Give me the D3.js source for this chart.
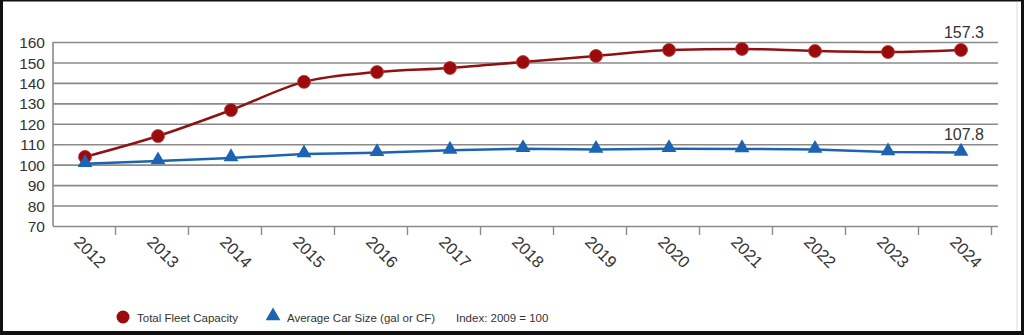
<!DOCTYPE html>
<html>
<head>
<meta charset="utf-8">
<script src="https://cdn.jsdelivr.net/npm/d3@7"></script>
<style>
  html, body { margin: 0; padding: 0; background: #fff; }
  svg { display: block; }
  text { font-family: "Liberation Sans", Arial, Helvetica, sans-serif; }
</style>
</head>
<body>
<svg id="chart" width="1024" height="335"></svg>
<script>
// ---- data ----
const years = ["2012","2013","2014","2015","2016","2017","2018","2019","2020","2021","2022","2023","2024"];
const fleetCapacity = [103.8, 114.0, 126.7, 140.5, 145.3, 147.3, 150.2, 153.2, 156.1, 156.6, 155.6, 155.1, 156.1];
const avgCarSize = [100.4, 101.8, 103.3, 105.2, 105.8, 107.0, 107.8, 107.4, 107.8, 107.7, 107.4, 106.2, 106.0];
const yTicks = [70, 80, 90, 100, 110, 120, 130, 140, 150, 160];
const endLabels = ["157.3", "107.8"];
const legendLabels = ["Total Fleet Capacity", "Average Car Size (gal or CF)", "Index: 2009 = 100"];

// ---- layout ----
const W = 1024, H = 335;
const svg = d3.select("#chart");
const plotLeft = 53, plotRight = 998, plotTop = 42, plotBottom = 226;

const x = d3.scaleBand().domain(years).range([48.5, 997.5]).padding(0);
const xc = d => x(d) + x.bandwidth() / 2;
const y = d3.scaleLinear().domain([70, 160]).range([plotBottom, plotTop]);

const red = "#9c0b0b", redLine = "#8e1212";
const blue = "#1c64b2";
const grid = "#8a8a8a";
const textCol = "#333";

svg.append("rect").attr("width", W).attr("height", H).attr("fill", "#fff");

// gridlines
const yAxis = d3.axisLeft(y).tickValues(yTicks).tickSize(0).tickPadding(0);
const gy = svg.append("g").attr("transform", `translate(${plotLeft},0)`).call(yAxis);
gy.select(".domain").remove();
gy.selectAll(".tick line")
  .attr("x1", 0).attr("x2", plotRight - plotLeft)
  .attr("stroke", grid).attr("stroke-width", 1.6);
gy.selectAll(".tick text")
  .attr("x", -8).attr("dy", "0.36em")
  .attr("fill", textCol).attr("font-size", 15.5)
  .attr("text-anchor", "end");

// left axis line
svg.append("line")
  .attr("x1", plotLeft).attr("x2", plotLeft)
  .attr("y1", y(160)).attr("y2", y(70))
  .attr("stroke", grid).attr("stroke-width", 1.6);

// x tick marks between categories
svg.append("g").selectAll("line")
  .data(years)
  .join("line")
  .attr("x1", d => x(d) + x.bandwidth() - 6)
  .attr("x2", d => x(d) + x.bandwidth() - 6)
  .attr("y1", plotBottom).attr("y2", plotBottom + 9)
  .attr("stroke", grid).attr("stroke-width", 1.4);

// x labels
svg.append("g").selectAll("text")
  .data(years)
  .join("text")
  .attr("transform", d => `translate(${xc(d) - 12},${243}) rotate(45)`)
  .attr("font-size", 16.5)
  .attr("fill", textCol)
  .text(d => d);

// lines
const redPts = years.map((d, i) => [xc(d), y(fleetCapacity[i])]);
const bluePts = years.map((d, i) => [xc(d), y(avgCarSize[i])]);

svg.append("path")
  .attr("d", d3.line().curve(d3.curveMonotoneX)(redPts))
  .attr("fill", "none").attr("stroke", redLine).attr("stroke-width", 2.5);
svg.append("path")
  .attr("d", d3.line()(bluePts))
  .attr("fill", "none").attr("stroke", blue).attr("stroke-width", 2.5);

// markers
svg.append("g").selectAll("circle")
  .data(redPts)
  .join("circle")
  .attr("cx", d => d[0]).attr("cy", d => d[1]).attr("r", 6.5)
  .attr("fill", red).attr("stroke", "#b33a3a").attr("stroke-width", 0.8);

const tri = d3.symbol().type(d3.symbolTriangle).size(95);
svg.append("g").selectAll("path")
  .data(bluePts)
  .join("path")
  .attr("transform", d => `translate(${d[0]},${d[1] - 1})`)
  .attr("d", tri)
  .attr("fill", blue);

// end labels
const last = years[years.length - 1];
svg.append("text")
  .attr("x", xc(last) + 3).attr("y", y(fleetCapacity[fleetCapacity.length - 1]) - 12)
  .attr("text-anchor", "middle").attr("font-size", 16).attr("fill", textCol)
  .text(endLabels[0]);
svg.append("text")
  .attr("x", xc(last) + 3).attr("y", y(avgCarSize[avgCarSize.length - 1]) - 12)
  .attr("text-anchor", "middle").attr("font-size", 16).attr("fill", textCol)
  .text(endLabels[1]);

// legend
const ly = 317;
const lg = svg.append("g");
lg.append("circle").attr("cx", 123).attr("cy", ly).attr("r", 6.5).attr("fill", red);
lg.append("text").attr("x", 137).attr("y", ly + 4.5).attr("font-size", 11.5).attr("fill", textCol).text(legendLabels[0]);
lg.append("path").attr("transform", `translate(273,${ly - 1})`).attr("d", tri).attr("fill", blue);
lg.append("text").attr("x", 287).attr("y", ly + 4.5).attr("font-size", 11.5).attr("fill", textCol).text(legendLabels[1]);
lg.append("text").attr("x", 456).attr("y", ly + 4.5).attr("font-size", 11.5).attr("fill", textCol).text(legendLabels[2]);

// frame
svg.append("rect").attr("x", 0).attr("y", 0).attr("width", 3).attr("height", H).attr("fill", "#111");
svg.append("rect").attr("x", 0).attr("y", 0).attr("width", W).attr("height", 1.5).attr("fill", "#111");
svg.append("rect").attr("x", W - 3).attr("y", 0).attr("width", 3).attr("height", H).attr("fill", "#111");
svg.append("rect").attr("x", 0).attr("y", H - 4).attr("width", W).attr("height", 4).attr("fill", "#111");
svg.append("line").attr("x1", W - 7).attr("x2", W - 7).attr("y1", 2).attr("y2", H - 4).attr("stroke", "#ddd").attr("stroke-width", 1);
</script>
</body>
</html>
